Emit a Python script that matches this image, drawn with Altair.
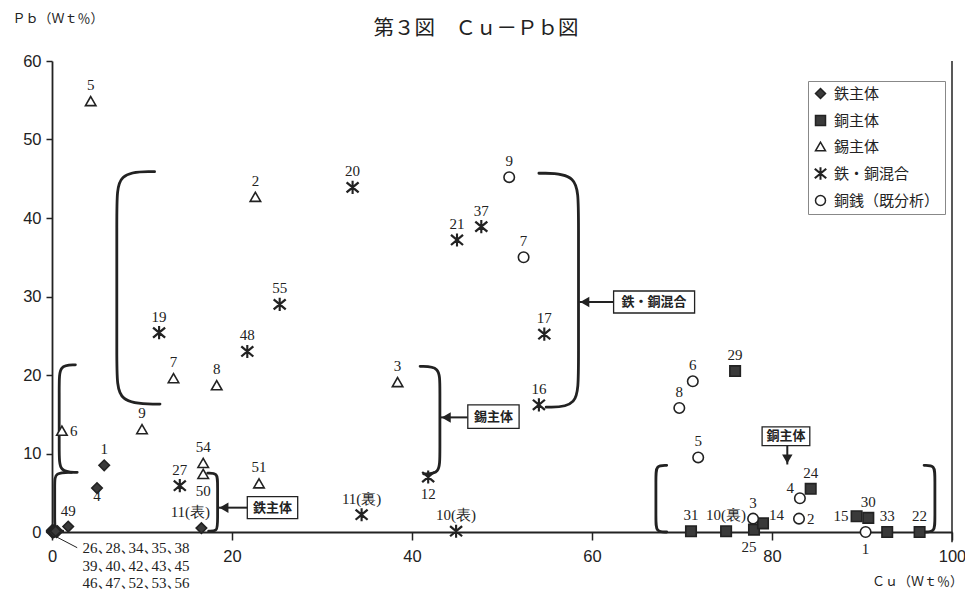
import altair as alt
import pandas as pd

# ---------------- data ----------------
GROUPS = ["鉄主体", "銅主体", "錫主体", "鉄・銅混合", "銅銭（既分析）"]

iron_id = ["1", "4", "49", "11(表)"]
iron_cu = [5.8, 5.0, 1.8, 16.6]
iron_pb = [8.5, 5.6, 0.7, 0.5]
iron_pos = ["t", "bs", "t", "tl"]

cluster_id = ["26", "28", "34", "35", "38", "39", "40", "42", "43", "45", "46", "47", "52", "53", "56"]
cluster_cu = [0.0, 0.1, 0.2, 0.0, 0.3, 0.1, 0.4, 0.2, 0.0, 0.5, 0.3, 0.1, 0.6, 0.2, 0.4]
cluster_pb = [0.0, 0.1, 0.0, 0.2, 0.1, 0.0, 0.1, 0.2, 0.1, 0.0, 0.2, 0.0, 0.1, 0.0, 0.1]
cluster_lines = ["26､28､34､35､38", "39､40､42､43､45", "46､47､52､53､56"]

copper_id = ["29", "24", "31", "10(裏)", "25", "14", "15", "30", "33", "22"]
copper_cu = [75.9, 84.3, 71.0, 74.9, 78.0, 79.0, 89.4, 90.7, 92.8, 96.4]
copper_pb = [20.5, 5.5, 0.1, 0.1, 0.3, 1.1, 2.0, 1.8, 0.0, 0.0]
copper_pos = ["t", "t", "t", "t", "bl", "ru", "l", "t", "t", "t"]

tin_id = ["5", "2", "7", "8", "9", "6", "54", "50", "51", "3"]
tin_cu = [4.3, 22.6, 13.5, 18.3, 10.0, 1.1, 16.8, 16.8, 23.0, 38.4]
tin_pb = [54.9, 42.7, 19.6, 18.7, 13.1, 12.9, 8.8, 7.4, 6.2, 19.1]
tin_pos = ["t", "t", "t", "t", "t", "r", "t", "b", "t", "t"]

mix_id = ["19", "48", "27", "55", "20", "21", "37", "17", "16", "11(裏)", "10(表)", "12"]
mix_cu = [11.9, 21.7, 14.2, 25.3, 33.4, 45.0, 47.7, 54.7, 54.1, 34.4, 44.9, 41.8]
mix_pb = [25.4, 23.0, 5.9, 29.0, 43.9, 37.2, 38.9, 25.2, 16.2, 2.2, 0.1, 7.0]
mix_pos = ["t", "t", "t", "t", "t", "t", "t", "t", "t", "t", "t", "b"]

coin_id = ["9", "7", "6", "8", "5", "4", "2", "3", "1"]
coin_cu = [50.8, 52.4, 71.2, 69.7, 71.8, 83.1, 83.0, 77.9, 90.4]
coin_pb = [45.2, 35.0, 19.2, 15.8, 9.5, 4.3, 1.7, 1.7, 0.0]
coin_pos = ["t", "t", "t", "t", "t", "lu", "r", "t", "b"]

# annotation brackets (data units)
br_id = ["b1", "b2", "b3", "b4", "b5", "b6", "b7", "b8"]
br_x = [
    [11.4, 7.2, 7.2, 7.2, 7.2, 12.0],
    [54.1, 58.5, 58.5, 58.5, 58.5, 54.9],
    [40.9, 43.1, 43.1, 43.1, 43.1, 41.3],
    [2.6, 0.8, 0.8, 0.8, 0.8, 2.8],
    [2.2, 0.3, 0.3, 0.3, 0.3, 1.2],
    [17.3, 18.4, 18.4, 18.4, 18.4, 17.4],
    [68.3, 67.1, 67.1, 67.1, 67.1, 68.3],
    [96.9, 98.1, 98.1, 98.1, 98.1, 96.9],
]
br_y = [
    [45.9, 45.9, 41.5, 20.8, 16.3, 16.3],
    [45.7, 45.7, 41.0, 20.5, 15.9, 15.9],
    [21.1, 21.1, 18.6, 9.9, 7.4, 7.4],
    [21.3, 21.3, 18.8, 10.1, 7.6, 7.6],
    [7.6, 7.6, 6.2, 1.3, 0.1, 0.1],
    [7.5, 7.5, 6.2, 1.3, 0.1, 0.1],
    [8.5, 8.5, 7.0, 1.5, 0.0, 0.0],
    [8.5, 8.5, 7.0, 1.5, 0.0, 0.0],
]

box_text = ["鉄・銅混合", "錫主体", "鉄主体", "銅主体"]
box_x1 = [62.4, 46.2, 21.7, 78.9]
box_x2 = [71.4, 51.9, 27.3, 84.2]
box_y1 = [30.7, 16.2, 4.5, 13.4]
box_y2 = [27.9, 13.2, 1.7, 11.0]

arrow_x1 = [62.4, 46.2, 21.7, 81.7]
arrow_x2 = [58.6, 43.2, 18.5, 81.7]
arrow_y1 = [29.3, 14.6, 3.1, 11.0]
arrow_y2 = [29.3, 14.6, 3.1, 8.6]
left_head_x = [59.2, 43.8, 19.1]
left_head_y = [29.3, 14.6, 3.1]
down_head_x = [81.7]
down_head_y = [9.3]

# ---------------- tables ----------------
def grp(name, ids, cu, pb, pos):
    return pd.DataFrame({"group": name, "id": ids, "cu": cu, "pb": pb, "pos": pos})

pts = pd.concat([
    grp("鉄主体", iron_id, iron_cu, iron_pb, iron_pos),
    grp("鉄主体", cluster_id, cluster_cu, cluster_pb, ["none"] * len(cluster_id)),
    grp("銅主体", copper_id, copper_cu, copper_pb, copper_pos),
    grp("錫主体", tin_id, tin_cu, tin_pb, tin_pos),
    grp("鉄・銅混合", mix_id, mix_cu, mix_pb, mix_pos),
    grp("銅銭（既分析）", coin_id, coin_cu, coin_pb, coin_pos),
], ignore_index=True)

rows = []
for b, xs, ys in zip(br_id, br_x, br_y):
    for i, (xv, yv) in enumerate(zip(xs, ys)):
        rows.append({"bid": b, "o": i, "x": xv, "y": yv})
brackets = pd.DataFrame(rows)

boxes = pd.DataFrame({"t": box_text, "x1": box_x1, "x2": box_x2, "y1": box_y1, "y2": box_y2})
arrows = pd.DataFrame({"x1": arrow_x1, "x2": arrow_x2, "y1": arrow_y1, "y2": arrow_y2})
lheads = pd.DataFrame({"x": left_head_x, "y": left_head_y})
dheads = pd.DataFrame({"x": down_head_x, "y": down_head_y})

XS = alt.Scale(domain=[0, 100], nice=False, zero=False)
YS = alt.Scale(domain=[0, 60], nice=False, zero=False)
SERIF = "Liberation Serif"
CJK = "Noto Sans CJK JP"
INK = "#222222"

# "ж"-like asterisk marker: a vertical bar and two crossing diagonal bars
ASTERISK = (
    "M-0.05,-1.1L0.05,-1.1L0.05,1.1L-0.05,1.1Z"
    "M0.99,0.91L1.07,0.82L-0.99,-0.91L-1.07,-0.82Z"
    "M-1.07,0.82L-0.99,0.91L1.07,-0.82L0.99,-0.91Z"
)

LEG = dict(orient="none", legendX=756, legendY=20, title=None,
           labelFont=CJK, labelFontSize=15, labelColor=INK, strokeColor="#888888",
           padding=5, rowPadding=10, labelOffset=6)

xenc = alt.X("cu:Q", scale=XS, axis=alt.Axis(
    values=[0, 20, 40, 60, 80, 100], title=None, grid=False, tickSize=8,
    tickWidth=1.5, domainWidth=1.8, domainColor=INK, tickColor=INK, labelFlush=False,
    labelFont="Liberation Sans", labelFontSize=16.5, labelColor=INK, labelPadding=8))
yenc = alt.Y("pb:Q", scale=YS, axis=alt.Axis(
    values=[0, 10, 20, 30, 40, 50, 60], title=None, grid=False, tickSize=6,
    tickWidth=1.5, domainWidth=1.8, domainColor=INK, tickColor=INK, labelFlush=False,
    labelFont="Liberation Sans", labelFontSize=16.5, labelColor=INK, labelPadding=5))

points = alt.Chart(pts).mark_point(filled=True, stroke=INK, strokeWidth=1.6, opacity=1, size=110).encode(
    x=xenc, y=yenc,
    shape=alt.Shape("group:N", title="凡例", scale=alt.Scale(
        domain=GROUPS, range=["diamond", "square", "triangle-up", ASTERISK, "circle"]),
        legend=alt.Legend(**LEG)),
    fill=alt.Fill("group:N", title="凡例", scale=alt.Scale(
        domain=GROUPS, range=["#3a3a3a", "#3a3a3a", "white", INK, "white"]),
        legend=alt.Legend(**LEG)),
)

POS = {
    "t": ("center", 0, -11),
    "tl": ("center", -11, -11),
    "b": ("center", 0, 22),
    "bs": ("center", 0, 13),
    "bl": ("center", -5, 22),
    "r": ("left", 8, 5),
    "ru": ("left", 6, -3),
    "l": ("right", -8, 5),
    "lu": ("right", -6, -5),
}
label_layers = []
for code, (al, dx, dy) in POS.items():
    label_layers.append(
        alt.Chart(pts).transform_filter(alt.datum.pos == code).mark_text(
            align=al, baseline="alphabetic", dx=dx, dy=dy, font=SERIF, fontSize=15, color=INK
        ).encode(x=alt.X("cu:Q", scale=XS), y=alt.Y("pb:Q", scale=YS), text="id:N")
    )

bracket_lines = alt.Chart(brackets).mark_line(
    interpolate="basis", strokeWidth=2.8, color=INK, strokeCap="round"
).encode(x=alt.X("x:Q", scale=XS), y=alt.Y("y:Q", scale=YS), detail="bid:N", order="o:Q")

box_rects = alt.Chart(boxes).mark_rect(fill="white", stroke=INK, strokeWidth=1.3).encode(
    x=alt.X("x1:Q", scale=XS), x2="x2:Q", y=alt.Y("y1:Q", scale=YS), y2="y2:Q")
box_labels = alt.Chart(boxes).transform_calculate(
    xm="(datum.x1 + datum.x2) / 2", ym="(datum.y1 + datum.y2) / 2"
).mark_text(font=CJK, fontSize=13, fontWeight="bold", color=INK, baseline="middle").encode(
    x=alt.X("xm:Q", scale=XS), y=alt.Y("ym:Q", scale=YS), text="t:N")

arrow_lines = alt.Chart(arrows).mark_rule(strokeWidth=2, color=INK).encode(
    x=alt.X("x1:Q", scale=XS), x2="x2:Q", y=alt.Y("y1:Q", scale=YS), y2="y2:Q")
left_heads = alt.Chart(lheads).mark_point(
    filled=True, color=INK, opacity=1, size=110, shape="triangle-left").encode(
    x=alt.X("x:Q", scale=XS), y=alt.Y("y:Q", scale=YS))
down_heads = alt.Chart(dheads).mark_point(
    filled=True, color=INK, opacity=1, size=110, shape="triangle-down").encode(
    x=alt.X("x:Q", scale=XS), y=alt.Y("y:Q", scale=YS))

frame = alt.Chart(pd.DataFrame({"x": [100], "y1": [-1.3], "y2": [60]})).mark_rule(
    strokeWidth=1.5, color=INK).encode(
    x=alt.X("x:Q", scale=XS), y=alt.Y("y1:Q", scale=YS), y2="y2:Q")

leader = alt.Chart(pd.DataFrame({"x1": [0.3], "x2": [2.8], "y1": [-0.5], "y2": [-2.0]})).mark_rule(
    strokeWidth=1, color=INK).encode(
    x=alt.X("x1:Q", scale=XS), x2="x2:Q", y=alt.Y("y1:Q", scale=YS), y2="y2:Q")

cluster_text = alt.Chart(pd.DataFrame({
    "t": cluster_lines, "x": [3.4] * 3, "y": [-2.0, -4.3, -6.5]})).mark_text(
    align="left", baseline="middle", font=SERIF, fontSize=15, color=INK).encode(
    x=alt.X("x:Q", scale=XS), y=alt.Y("y:Q", scale=YS), text="t:N")

texts = pd.DataFrame({
    "t": ["第３図　Ｃｕ－Ｐｂ図", "Ｐｂ（Ｗｔ％）", "Ｃｕ（Ｗｔ％）"],
    "x": [47.1, -4.4, 91.1],
    "y": [64.1, 65.4, -6.4],
})
title_layers = [
    alt.Chart(texts.iloc[[0]]).mark_text(align="center", baseline="middle", font=CJK,
                                          fontSize=20.5, color=INK).encode(
        x=alt.X("x:Q", scale=XS), y=alt.Y("y:Q", scale=YS), text="t:N"),
    alt.Chart(texts.iloc[[1, 2]]).mark_text(align="left", baseline="middle", font=CJK,
                                             fontSize=13, color=INK).encode(
        x=alt.X("x:Q", scale=XS), y=alt.Y("y:Q", scale=YS), text="t:N"),
]

chart = alt.layer(
    frame, bracket_lines, arrow_lines, left_heads, down_heads, box_rects, box_labels,
    leader, cluster_text, points, *label_layers, *title_layers,
).properties(
    width=900, height=471,
    autosize=alt.AutoSizeParams(type="none"),
    padding={"left": 44, "top": 53, "right": 13, "bottom": 60},
    background="white",
).configure_view(stroke=None)

chart.save("out.html", embed_options={"renderer": "svg", "actions": False})
